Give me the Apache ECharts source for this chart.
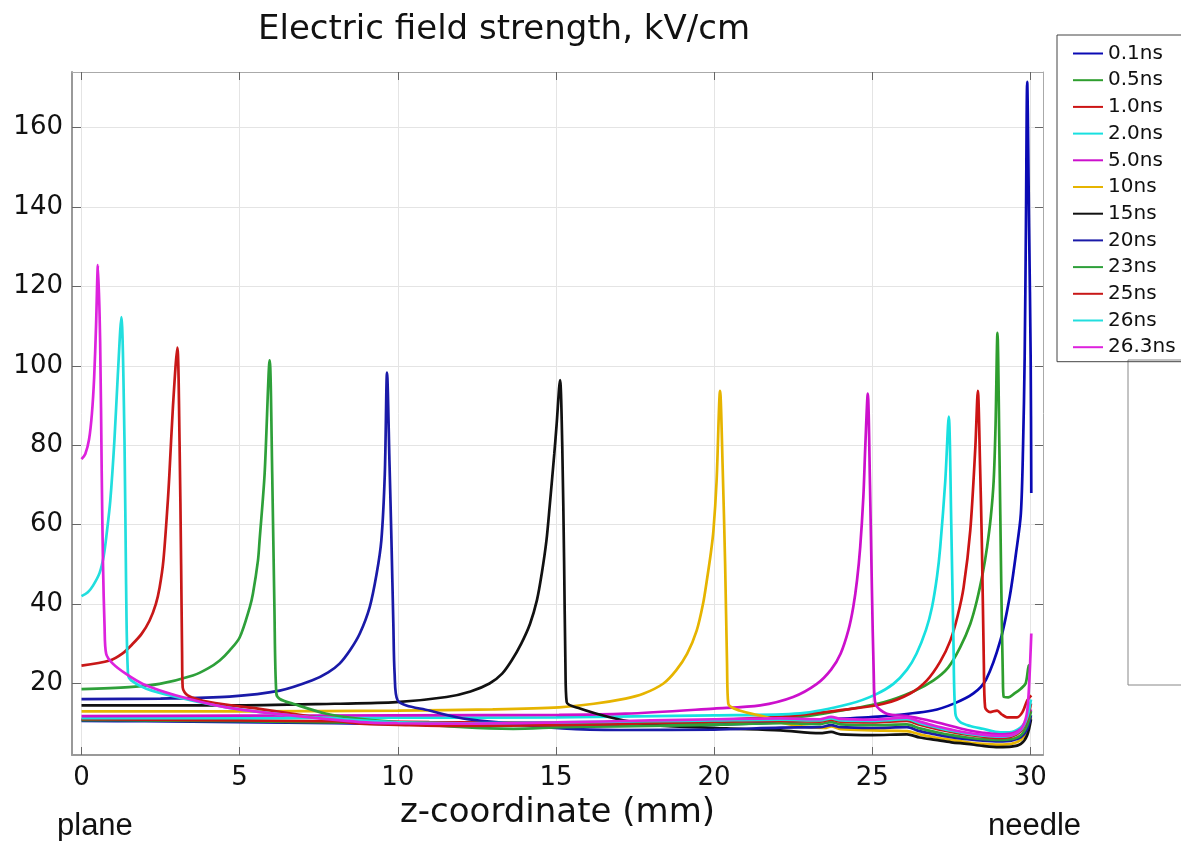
<!DOCTYPE html>
<html><head><meta charset="utf-8">
<script src="https://cdn.jsdelivr.net/npm/echarts@6/dist/echarts.min.js"></script>
<style>html,body{margin:0;padding:0;background:#fff}#c{width:1181px;height:841px}</style>
</head><body><div id="c"></div>
<script>
const seriesNames = ['0.1ns','0.5ns','1.0ns','2.0ns','5.0ns','10ns','15ns','20ns','23ns','25ns','26ns','26.3ns'];
const seriesColors = ['#0a0ab4','#2e9e2e','#cc1414','#18e0e0','#cc10cc','#e6b400','#111111','#1a1aa8','#2ea03a','#c81818','#22dede','#dd22dd'];
const xTicks = [0,5,10,15,20,25,30];
const yTicks = [20,40,60,80,100,120,140,160];

const t01 = [[0,10.6],[2,10.5],[5,10.3],[8,10.0],[11,9.7],[14,9.5],[17,9.4],[20,9.6],[22,10.2],[23.5,10.9],[25.4,11.8],[26.9,13.2],[27.6,15.0],[28.2,17.5],[28.6,21],[29.05,30.8],[29.35,42],[29.55,53],[29.7,62.8],[29.77,80],[29.82,102],[29.86,135],[29.9,171.5],[29.96,135],[30.01,102],[30.03,68]];
const t05 = [[0,10.8],[2,10.7],[5,10.5],[8,10.2],[11,10.0],[14,9.8],[17,9.8],[20,10.2],[22,11.0],[23.5,12.5],[25.36,15.3],[26.3,18],[26.94,20.8],[27.4,24],[27.78,29.1],[28.1,35],[28.31,40.9],[28.5,48],[28.63,54.3],[28.75,62],[28.84,71],[28.9,85],[28.96,108.3],[29.02,80],[29.08,45],[29.13,22],[29.16,16.6],[29.3,16.5],[29.5,17.5],[29.7,18.7],[29.85,20],[29.95,24.5],[30.02,24.7]];
const t10 = [[0,11.0],[2,10.9],[5,10.7],[8,10.5],[11,10.3],[14,10.2],[17,10.3],[20,10.8],[22,11.6],[22.72,12.1],[24,13.3],[25.36,14.9],[26.2,17.5],[26.73,20.8],[27.15,25.5],[27.47,30.8],[27.7,37],[27.89,44.2],[28.1,58.5],[28.26,79.4],[28.34,93.7],[28.41,75],[28.47,54],[28.53,25],[28.57,14],[28.73,12.8],[28.95,13.2],[29.1,12.2],[29.26,11.5],[29.58,11.5],[29.75,12.8],[29.9,15.7],[30.03,17]];
const t20 = [[0,11.3],[3,11.3],[6,11.3],[10,11.4],[15,11.5],[20,12.0],[22.72,12.5],[24.3,14.9],[25.1,17.2],[25.67,19.9],[26.1,23.5],[26.4,27.5],[26.7,33.5],[26.89,39.2],[27.05,47],[27.15,54.3],[27.31,71],[27.42,87.2],[27.5,60],[27.57,30],[27.63,12.4],[27.78,10.3],[28.1,9.3],[28.5,8.6],[29.05,7.7],[29.4,7.8],[29.7,9.0],[29.9,11],[30.02,13]];
const t50 = [[0,11.8],[5,11.9],[10,12.0],[15.1,12.1],[17.2,12.4],[20,13.7],[21.46,14.5],[22.5,16.6],[23.25,19.9],[23.7,23.5],[24.0,27.5],[24.25,33.5],[24.4,39.2],[24.52,46],[24.62,54.3],[24.72,67],[24.78,79.4],[24.86,93],[24.93,70],[24.99,44],[25.05,22],[25.1,14.9],[25.46,12.4],[26.1,11.8],[26.5,11.2],[27,10.3],[27.5,9.3],[28,8.3],[28.5,7.6],[29,7.2],[29.4,7.4],[29.7,8.5],[29.9,10.5],[30.02,13.5]];
const t100 = [[0,13.0],[5,13.0],[10,13.2],[13,13.5],[15.1,14.0],[16.2,14.9],[17.2,16.2],[17.76,17.4],[18.4,20],[18.8,23.3],[19.15,27.5],[19.45,33.3],[19.65,40],[19.77,45.9],[19.9,53],[19.98,58.5],[20.08,71],[20.19,93.7],[20.27,75],[20.35,50],[20.41,25],[20.45,14.9],[20.8,13.2],[21.67,11.5],[22.2,10.0],[23.0,9.0],[23.5,8.8],[23.7,9.2],[24,8.5],[25,8.2],[26.1,8.0],[26.5,7.2],[27,6.4],[27.5,5.8],[28,5.2],[28.5,4.8],[29,4.6],[29.4,4.8],[29.7,5.8],[29.9,8],[30.02,11.5]];
const t150 = [[0,14.5],[4.68,14.5],[8,14.9],[9.96,15.3],[11.54,16.6],[12.3,18],[12.9,20],[13.3,22.5],[13.6,25.8],[13.9,30],[14.18,35],[14.4,41],[14.55,47.6],[14.7,56],[14.8,64.4],[14.95,78],[15.02,85],[15.13,96.4],[15.2,80],[15.26,50],[15.3,25],[15.34,15.3],[15.76,13.7],[16.7,11.5],[17.5,10.2],[18.3,9.4],[20.4,8.7],[22.1,8.2],[23.35,7.5],[23.7,7.8],[24,7.2],[25,7.0],[26.1,7.2],[26.5,6.4],[27,5.8],[27.5,5.2],[28,4.8],[28.5,4.3],[29,4.0],[29.4,4.1],[29.7,4.8],[29.9,7],[30.02,11]];
const t200 = [[0,16.05],[2.5,16.2],[4.68,16.7],[6.27,18.2],[7.3,20.8],[7.8,22.8],[8.16,25],[8.5,28.5],[8.8,32.6],[9.11,39.2],[9.33,47.6],[9.48,56],[9.59,72.8],[9.66,98.3],[9.74,75],[9.8,56],[9.86,35],[9.9,22.5],[10.0,15.7],[11.0,13.2],[12.06,11.2],[13.6,9.9],[15.2,8.7],[17,8.3],[20,8.4],[22.1,8.9],[23.35,9.0],[23.7,9.5],[24,9.0],[25,8.8],[26.1,9.0],[26.5,8.0],[27,7.2],[27.5,6.5],[28,6.0],[28.5,5.6],[29,5.4],[29.4,5.6],[29.7,6.5],[29.9,8.5],[30.02,12]];
const t230 = [[0,18.6],[1.5,19.1],[2.47,19.9],[3.52,22],[4.0,23.8],[4.37,25.8],[4.68,28.3],[5.0,31.6],[5.32,39.2],[5.42,42.6],[5.58,51],[5.63,56],[5.79,72.8],[5.95,101.4],[6.03,72.8],[6.1,39],[6.16,17.5],[6.27,16.1],[6.69,14.9],[7.74,12.4],[8.8,11.1],[9.96,10.3],[12.07,9.0],[13.65,8.6],[15.2,9.0],[17,9.2],[20,9.6],[22.1,10.0],[23.35,9.8],[23.7,10.3],[24,9.7],[25,9.5],[26.1,9.7],[26.5,8.7],[27,7.8],[27.5,7.0],[28,6.4],[28.5,6.0],[29,5.8],[29.4,6.0],[29.7,7.0],[29.9,9.5],[30.02,13]];
const t250 = [[0,24.5],[0.89,25.8],[1.3,27.6],[1.62,30],[1.9,32.5],[2.15,35.8],[2.35,40],[2.47,44.2],[2.59,51],[2.73,66],[2.78,72.8],[2.89,89.5],[3.03,104.6],[3.1,81],[3.15,50],[3.18,28],[3.2,19],[3.36,17],[4.05,15.3],[5.63,13.6],[7.74,11.1],[8.8,9.9],[10,9.6],[12,9.3],[15,9.5],[18,10.0],[20,10.4],[22.1,10.6],[23.35,10.4],[23.7,10.9],[24,10.4],[25,10.2],[26.1,10.6],[26.5,9.6],[27,8.6],[27.5,7.8],[28,7.1],[28.5,6.6],[29,6.3],[29.4,6.6],[29.7,8],[29.9,11],[30.02,15]];
const t260 = [[0,42.0],[0.2,43.0],[0.36,44.6],[0.57,47.8],[0.7,52],[0.8,58],[0.91,66],[1.04,81.1],[1.15,97.9],[1.26,112.3],[1.36,81],[1.41,45],[1.47,22.4],[1.57,20.8],[2.05,18.7],[3.0,16.6],[4.58,14],[6.69,11.9],[8.8,10.7],[10,10.2],[12,10.0],[15,10.2],[18,10.5],[20,10.7],[22.1,10.9],[23.35,10.7],[23.7,11.2],[24,10.7],[25,10.6],[26.1,11.0],[26.5,10.0],[27,9.0],[27.5,8.1],[28,7.4],[28.5,6.9],[29,6.6],[29.4,6.9],[29.7,8.3],[29.9,11.5],[30.02,16]];
const t263 = [[0,76.5],[0.12,77.8],[0.24,81.5],[0.33,88],[0.4,97],[0.46,110],[0.52,125.4],[0.59,106],[0.64,72.8],[0.68,50],[0.73,34.2],[0.78,27.5],[0.99,25],[1.41,22.4],[1.94,19.9],[3.0,17],[4.58,14],[6.69,11.9],[8.8,10.3],[10,10.0],[12,9.9],[15,10.2],[18,10.7],[20,11.0],[22.1,11.2],[23.35,11.0],[23.7,11.6],[24,11.1],[25,10.9],[26.1,11.4],[26.5,10.4],[27,9.3],[27.5,8.4],[28,7.6],[28.5,7.1],[29,6.8],[29.4,7.0],[29.7,8.5],[29.88,12],[29.95,18],[30.03,32.6]];

const seriesData = [t01,t05,t10,t20,t50,t100,t150,t200,t230,t250,t260,t263];

const chart = echarts.init(document.getElementById('c'), null, {renderer:'canvas'});
const axisFont = 'DejaVu Sans';
const baseX = {type:'value', min:-0.3, max:30.4};
const baseY = {type:'value', min:2, max:174};
chart.setOption({
  animation:false,
  backgroundColor:'#fff',
  title:{text:'Electric field strength, kV/cm', left:253, top:8,
    textStyle:{fontFamily:axisFont, fontSize:34, fontWeight:'normal', color:'#111'}},
  legend:{orient:'vertical', left:1057, top:35, data:seriesNames, icon:'rect',
    itemWidth:30, itemHeight:2, itemGap:5.7, borderColor:'#444', borderWidth:1,
    padding:[8,30,4,16], textStyle:{fontFamily:axisFont, fontSize:20, color:'#111', lineHeight:21}},
  grid:{left:72, right:138, top:72, bottom:86, containLabel:false},
  xAxis:[
    Object.assign({}, baseX, {position:'bottom',
      name:'z-coordinate (mm)', nameLocation:'middle', nameGap:33,
      nameTextStyle:{fontFamily:axisFont, fontSize:34, color:'#111'},
      axisLine:{onZero:false, lineStyle:{color:'#999', width:2}},
      axisTick:{inside:true, length:8, customValues:xTicks, lineStyle:{color:'#666'}},
      axisLabel:{customValues:xTicks, fontFamily:axisFont, fontSize:26, color:'#111', margin:10},
      splitLine:{show:true, lineStyle:{color:'#e4e4e4', width:1}}}),
    Object.assign({}, baseX, {position:'top',
      axisLine:{onZero:false, lineStyle:{color:'#aaa', width:1}},
      axisTick:{inside:true, length:8, customValues:xTicks, lineStyle:{color:'#666'}},
      axisLabel:{show:false}, splitLine:{show:false}})
  ],
  yAxis:[
    Object.assign({}, baseY, {position:'left',
      axisLine:{show:true, onZero:false, lineStyle:{color:'#999', width:2}},
      axisTick:{show:true, inside:true, length:9, customValues:yTicks, lineStyle:{color:'#666'}},
      axisLabel:{customValues:yTicks, fontFamily:axisFont, fontSize:26, color:'#111', margin:9},
      splitLine:{show:true, lineStyle:{color:'#e4e4e4', width:1}}}),
    Object.assign({}, baseY, {position:'right',
      axisLine:{show:true, onZero:false, lineStyle:{color:'#aaa', width:1}},
      axisTick:{show:true, inside:true, length:8, customValues:yTicks, lineStyle:{color:'#666'}},
      axisLabel:{show:false}, splitLine:{show:false}})
  ],
  graphic:[
    {type:'rect', shape:{x:1128, y:360, width:80, height:325}, style:{fill:'none', stroke:'#888', lineWidth:1}},
    {type:'text', left:57, top:811, style:{text:'plane', font:'31px "Liberation Sans", Arial, sans-serif', fill:'#111'}},
    {type:'text', left:988, top:811, style:{text:'needle', font:'31px "Liberation Sans", Arial, sans-serif', fill:'#111'}}
  ],
  series: seriesNames.map((n,i)=>({
    name:n, type:'line', xAxisIndex:0, yAxisIndex:0, data:seriesData[i],
    showSymbol:false, symbol:'none', smooth:0.3, clip:true,
    color:seriesColors[i], lineStyle:{width:2.7, color:seriesColors[i]}
  }))
});
</script></body></html>
